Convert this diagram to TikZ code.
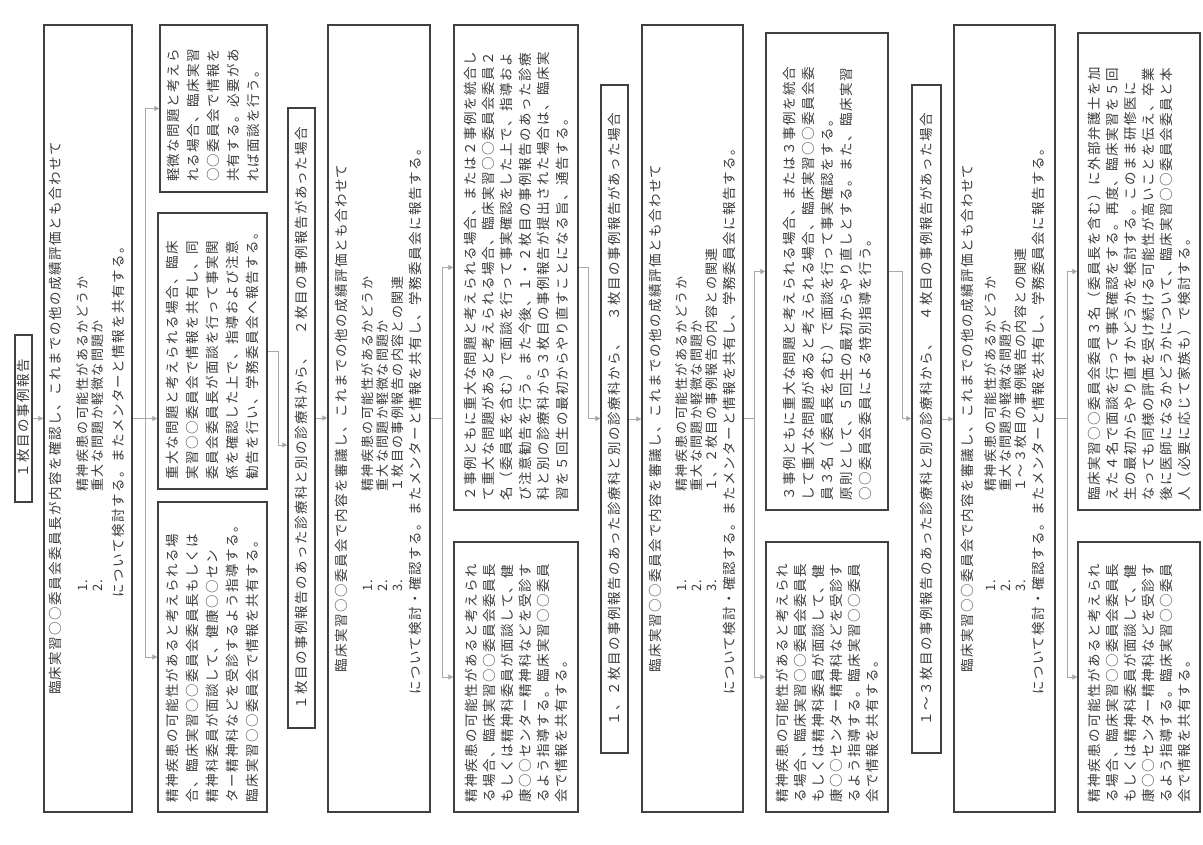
\documentclass[tikz,border=0pt]{standalone}
\usepackage{fontspec}
\setmainfont{Noto Sans CJK JP}
\newfontfamily\jpsp{Noto Sans CJK JP}[LetterSpace=11.0]
\usetikzlibrary{arrows.meta}
\definecolor{txt}{HTML}{3C3C3C}
\definecolor{bord}{HTML}{404040}
\definecolor{conncol}{HTML}{A8A8A8}
\tikzset{
  rbox/.style 2 args={draw=bord, line width=1.3pt, fill=white, rotate=90, inner sep=0pt,
    minimum width=#1, minimum height=#2, text=txt},
  para/.style n args={4}{rbox={#1}{#2}, inner xsep=10pt, text width=#3, align=left,
    font=\jpsp\fontsize{13.5pt}{#4}\selectfont},
  ttl/.style 2 args={rbox={#1}{#2}, font=\jpsp\fontsize{13.5pt}{16pt}\selectfont},
  lnc/.style={rotate=90, anchor=base, inner sep=0pt, text=txt, font=\jpsp\fontsize{13.5pt}{16pt}\selectfont},
  lni/.style={rotate=90, anchor=base west, inner sep=0pt, text=txt, font=\jpsp\fontsize{13pt}{15pt}\selectfont},
  cn/.style={draw=conncol, line width=0.9pt, -{Triangle[length=5pt,width=5pt]}},
  ln/.style={draw=conncol, line width=0.9pt},
}
\newcommand{\itm}[1]{\makebox[100pt][l]{#1}}
\begin{document}
\begin{tikzpicture}[x=1pt,y=-1pt]
\fill[white] (0,0) rectangle (1203,845);
\useasboundingbox (0,0) rectangle (1203,845);

% ---------- column 1 ----------
\node[ttl={167pt}{17pt}] (A) at (23.5,418.5) {１枚目の事例報告};
\node[rbox={787pt}{88pt}] (B) at (88,418.5) {};
\node[lnc] (Bl1) at (60,418.5) {臨床実習○○委員会委員長が内容を確認し、これまでの他の成績評価とも合わせて};
\node[lni] (Bl2) at (87,592) {\itm{1.}精神疾患の可能性があるかどうか};
\node[lni] (Bl3) at (102,592) {\itm{2.}重大な問題か軽微な問題か};
\node[lnc] (Bl4) at (123,418.5) {について検討する。またメンターと情報を共有する。};

\node[para={167pt}{107pt}{147pt}{20pt}] (C1) at (213.5,108.5)
 {軽微な問題と考えら\\れる場合、臨床実習\\○○委員会で情報を\\共有する。必要があ\\れば面談を行う。};
\node[para={276pt}{109pt}{256pt}{20pt}] (C2) at (212.5,351)
 {重大な問題と考えられる場合、臨床\\実習○○委員会で情報を共有し、同\\委員会委員長が面談を行って事実関\\係を確認した上で、指導および注意\\勧告を行い、学務委員会へ報告する。};
\node[para={310pt}{109pt}{290pt}{20pt}] (C3) at (212.5,657)
 {精神疾患の可能性があると考えられる場\\合、臨床実習○○委員会委員長もしくは\\精神科委員が面談して、健康○○セン\\ター精神科などを受診するよう指導する。\\臨床実習○○委員会で情報を共有する。};

% ---------- column 2 ----------
\node[ttl={620pt}{27pt}] (D) at (301.5,418) {１枚目の事例報告のあった診療科と別の診療科から、　２枚目の事例報告があった場合};
\node[rbox={787pt}{102pt}] (E) at (379,418.5) {};
\node[lnc] (El1) at (346,418.5) {臨床実習○○委員会で内容を審議し、これまでの他の成績評価とも合わせて};
\node[lni] (El2) at (372,592) {\itm{1.}精神疾患の可能性があるかどうか};
\node[lni] (El3) at (387,592) {\itm{2.}重大な問題か軽微な問題か};
\node[lni] (El4) at (402,592) {\itm{3.}１枚目の事例報告の内容との関連};
\node[lnc] (El5) at (420,418.5) {について検討・確認する。またメンターと情報を共有し、学務委員会に報告する。};

\node[para={485pt}{124pt}{465pt}{18.4pt}] (F1) at (516,267.5)
 {２事例ともに重大な問題と考えられる場合、または２事例を統合し\\て重大な問題があると考えられる場合、臨床実習○○委員会委員２\\名（委員長を含む）で面談を行って事実確認をした上で、指導およ\\び注意勧告を行う。また今後、１・２枚目の事例報告のあった診療\\科と別の診療科から３枚目の事例報告が提出された場合は、臨床実\\習を５回生の最初からやり直すことになる旨、通告する。};
\node[para={270pt}{124pt}{250pt}{18pt}] (F2) at (516,677)
 {精神疾患の可能性があると考えられ\\る場合、臨床実習○○委員会委員長\\もしくは精神科委員が面談して、健\\康○○センター精神科などを受診す\\るよう指導する。臨床実習○○委員\\会で情報を共有する。};

% ---------- column 3 ----------
\node[ttl={668pt}{27pt}] (G) at (614.5,419) {１、２枚目の事例報告のあった診療科と別の診療科から、　３枚目の事例報告があった場合};
\node[rbox={787pt}{101pt}] (H) at (692.5,418.5) {};
\node[lnc] (Hl1) at (660,418.5) {臨床実習○○委員会で内容を審議し、これまでの他の成績評価とも合わせて};
\node[lni] (Hl2) at (686,592) {\itm{1.}精神疾患の可能性があるかどうか};
\node[lni] (Hl3) at (701,592) {\itm{2.}重大な問題か軽微な問題か};
\node[lni] (Hl4) at (716,592) {\itm{3.}１、２枚目の事例報告の内容との関連};
\node[lnc] (Hl5) at (734,418.5) {について検討・確認する。またメンターと情報を共有し、学務委員会に報告する。};

\node[para={477pt}{122pt}{457pt}{19pt}] (I1) at (827,271.5)
 {３事例ともに重大な問題と考えられる場合、または３事例を統合\\して重大な問題があると考えられる場合、臨床実習○○委員会委\\員３名（委員長を含む）で面談を行って事実確認をする。\\原則として、５回生の最初からやり直しとする。また、臨床実習\\○○委員会委員による特別指導を行う。};
\node[para={270pt}{122pt}{250pt}{18pt}] (I2) at (827,677)
 {精神疾患の可能性があると考えられ\\る場合、臨床実習○○委員会委員長\\もしくは精神科委員が面談して、健\\康○○センター精神科などを受診す\\るよう指導する。臨床実習○○委員\\会で情報を共有する。};

% ---------- column 4 ----------
\node[ttl={668pt}{29pt}] (J) at (926.5,419) {１～３枚目の事例報告のあった診療科と別の診療科から、　４枚目の事例報告があった場合};
\node[rbox={787pt}{101pt}] (K) at (1004.5,418.5) {};
\node[lnc] (Kl1) at (972,418.5) {臨床実習○○委員会で内容を審議し、これまでの他の成績評価とも合わせて};
\node[lni] (Kl2) at (995,592) {\itm{1.}精神疾患の可能性があるかどうか};
\node[lni] (Kl3) at (1010,592) {\itm{2.}重大な問題か軽微な問題か};
\node[lni] (Kl4) at (1025,592) {\itm{3.}１～３枚目の事例報告の内容との関連};
\node[lnc] (Kl5) at (1043,418.5) {について検討・確認する。またメンターと情報を共有し、学務委員会に報告する。};

\node[para={477pt}{122pt}{457pt}{18pt}] (L1) at (1139,271.5)
 {臨床実習○○委員会委員３名（委員長を含む）に外部弁護士を加\\えた４名で面談を行って事実確認をする。再度、臨床実習を５回\\生の最初からやり直すかどうかを検討する。このまま研修医に\\なっても同様の評価を受け続ける可能性が高いことを伝え、卒業\\後に医師になるかどうかについて、臨床実習○○委員会委員と本\\人（必要に応じて家族も）で検討する。};
\node[para={270pt}{122pt}{250pt}{18pt}] (L2) at (1139,677)
 {精神疾患の可能性があると考えられ\\る場合、臨床実習○○委員会委員長\\もしくは精神科委員が面談して、健\\康○○センター精神科などを受診す\\るよう指導する。臨床実習○○委員\\会で情報を共有する。};

% ---------- connectors ----------
\draw[cn] (A.south) -- (B.north);

\coordinate (bc) at (145,418.5);
\draw[ln] (B.south) -- (bc);
\draw[cn] (bc) |- (C1.north);
\draw[cn] (bc) -- (bc -| C2.north);
\draw[cn] (bc) |- (C3.north);

\coordinate (cd) at (278,445);
\draw[cn] (C2.south) -| (cd) -- (cd -| D.north);
\draw[cn] (D.south) -- (D.south -| E.north);

\coordinate (ef) at (442,418.5);
\draw[ln] (E.south) -- (ef);
\draw[cn] (ef) |- (F1.north);
\draw[cn] (ef) |- (F2.north);

\coordinate (fg) at (588,418.5);
\draw[cn] (F1.south) -| (fg) -- (fg -| G.north);
\draw[cn] (G.south) -- (G.south -| H.north);

\coordinate (hi) at (754,418.5);
\draw[ln] (H.south) -- (hi);
\draw[cn] (hi) |- (I1.north);
\draw[cn] (hi) |- (I2.north);

\coordinate (ij) at (902,418.5);
\draw[cn] (I1.south) -| (ij) -- (ij -| J.north);
\draw[cn] (J.south) -- (J.south -| K.north);

\coordinate (kl) at (1067,418.5);
\draw[ln] (K.south) -- (kl);
\draw[cn] (kl) |- (L1.north);
\draw[cn] (kl) |- (L2.north);
\end{tikzpicture}
\end{document}
